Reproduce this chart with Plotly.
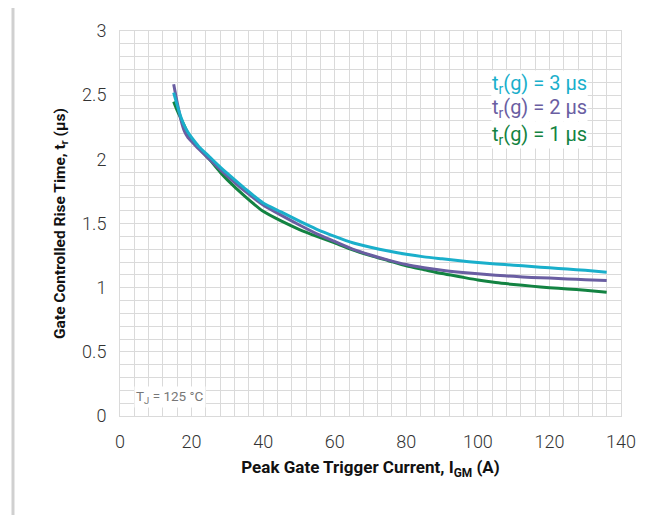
import plotly.graph_objects as go

x_vals = [15, 16, 17, 18, 19, 20, 22, 25, 28, 30, 35, 40, 45, 50, 55, 60, 65, 70,
          75, 80, 85, 90, 95, 100, 105, 110, 115, 120, 125, 130, 136]
tr_3us = [2.52, 2.42, 2.33, 2.26, 2.21, 2.17, 2.10, 2.02, 1.94, 1.89, 1.77, 1.66, 1.59,
          1.52, 1.455, 1.40, 1.35, 1.315, 1.285, 1.26, 1.24, 1.225, 1.21, 1.196, 1.185,
          1.175, 1.165, 1.155, 1.145, 1.135, 1.12]
tr_2us = [2.585, 2.44, 2.31, 2.22, 2.17, 2.14, 2.08, 2.00, 1.92, 1.87, 1.75, 1.645, 1.565,
          1.49, 1.42, 1.36, 1.30, 1.255, 1.215, 1.18, 1.155, 1.135, 1.12, 1.108, 1.097,
          1.088, 1.08, 1.075, 1.068, 1.062, 1.056]
tr_1us = [2.45, 2.38, 2.32, 2.26, 2.20, 2.16, 2.09, 2.00, 1.90, 1.84, 1.71, 1.595, 1.52,
          1.455, 1.40, 1.35, 1.295, 1.25, 1.21, 1.17, 1.14, 1.11, 1.085, 1.06, 1.04,
          1.025, 1.012, 1.0, 0.99, 0.98, 0.965]

x_ticks = [0, 20, 40, 60, 80, 100, 120, 140]
y_ticks = [0, 0.5, 1, 1.5, 2, 2.5, 3]
y_ticktext = ["0", "0.5", "1", "1.5", "2", "2.5", "3"]

series = [
    ("t<sub>r</sub>(g) = 3 µs", tr_3us, "#1AAFCB", 2.585),
    ("t<sub>r</sub>(g) = 2 µs", tr_2us, "#6A5EA2", 2.40),
    ("t<sub>r</sub>(g) = 1 µs", tr_1us, "#138342", 2.19),
]

fig = go.Figure()
for name, ys, color, ly in reversed(series):
    fig.add_trace(go.Scatter(x=x_vals, y=ys, mode="lines", name=name,
                             line=dict(color=color, width=3, shape="spline", smoothing=0.6),
                             showlegend=False))

for name, ys, color, ly in series:
    fig.add_annotation(x=130.8, y=ly, xref="x", yref="y", text=name, showarrow=False,
                       xanchor="right", yanchor="middle",
                       font=dict(family="Roboto", size=20, color=color),
                       bgcolor="white", borderpad=0)

fig.add_annotation(x=14, y=0.146, xref="x", yref="y", text="T<sub>J</sub> = 125 °C",
                   showarrow=False, xanchor="center", yanchor="middle",
                   font=dict(family="Roboto", size=13.5, color="#777777"),
                   bgcolor="white", borderpad=1)

grid = "#dadada"
fig.update_xaxes(range=[0, 140], showgrid=True, gridcolor=grid, gridwidth=1,
                 tickvals=x_ticks,
                 minor=dict(dtick=4, tick0=0, showgrid=True, gridcolor=grid, gridwidth=1),
                 showline=True, linecolor=grid, mirror=True, zeroline=False,
                 ticks="", ticklabelstandoff=9,
                 tickfont=dict(family="Roboto", size=18, color="#333333", weight=300),
                 title=dict(text="Peak Gate Trigger Current, I<sub>GM</sub> (A)",
                            font=dict(family="Roboto", size=17, color="#111111", weight="bold"),
                            standoff=10))
fig.update_yaxes(range=[0, 3], tickvals=y_ticks, ticktext=y_ticktext,
                 showgrid=True, gridcolor=grid, gridwidth=1,
                 minor=dict(dtick=0.1, showgrid=True, gridcolor=grid, gridwidth=1),
                 showline=True, linecolor=grid, mirror=True, zeroline=False,
                 ticks="", ticklabelstandoff=9,
                 tickfont=dict(family="Roboto", size=18, color="#333333", weight=300),
                 title=dict(text="Gate Controlled Rise Time, t<sub>r</sub> (µs)",
                            font=dict(family="Roboto", size=15.5, color="#111111", weight="bold"),
                            standoff=12))

fig.add_shape(type="line", xref="paper", yref="paper", x0=-0.2136, x1=-0.2136, y0=-0.4, y1=1.2,
              line=dict(color="#d0d0d0", width=3))
fig.add_shape(type="line", xref="paper", yref="paper", x0=1.0898, x1=1.0898, y0=-0.4, y1=1.2,
              line=dict(color="#d8d8d8", width=2))

# page body adds an 8px offset, so margins are reduced by 8px on left/top
fig.update_layout(width=669, height=515, margin=dict(l=112, r=56, t=18, b=107),
                  plot_bgcolor="white", paper_bgcolor="white")

fig.write_html("out.html")
